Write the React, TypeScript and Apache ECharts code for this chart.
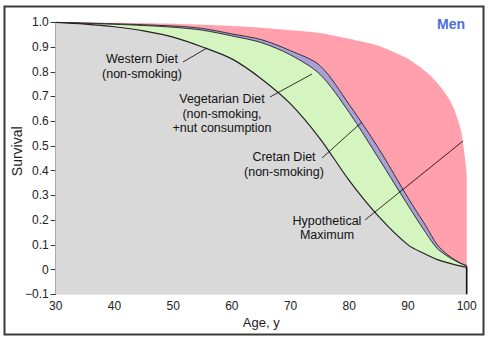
import React, { useEffect, useRef } from "react";
import * as echarts from "echarts";

// Survival curves (age in years, survival fraction)
const ages = [30, 35, 40, 45, 50, 55, 60, 65, 70, 75, 80, 85, 90, 93, 95, 97, 99, 100];
const westernDiet = [1.0, 0.993, 0.982, 0.965, 0.94, 0.9, 0.852, 0.772, 0.67, 0.53, 0.36, 0.215, 0.1, 0.062, 0.04, 0.026, 0.014, 0.01];
const cretanDiet = [1.0, 0.996, 0.992, 0.987, 0.98, 0.968, 0.945, 0.918, 0.868, 0.79, 0.635, 0.45, 0.26, 0.15, 0.085, 0.05, 0.024, 0.015];
const vegetarianDiet = [1.0, 0.997, 0.994, 0.99, 0.985, 0.975, 0.953, 0.93, 0.885, 0.825, 0.667, 0.49, 0.29, 0.178, 0.1, 0.055, 0.026, 0.016];

const hypoAges = [30, 40, 50, 60, 65, 70, 75, 80, 85, 88, 90, 92, 94, 95.5, 97, 98, 99, 99.5, 100, 100];
const hypotheticalMax = [1.0, 0.998, 0.994, 0.985, 0.978, 0.968, 0.957, 0.933, 0.905, 0.875, 0.853, 0.82, 0.78, 0.74, 0.69, 0.64, 0.565, 0.49, 0.38, 0.017];

const endAge = [100, 100];
const endLine = [0.012, -0.1];

const xTicks = { min: 30, max: 100, interval: 10 };
const yTicks = { min: -0.1, max: 1.0, interval: 0.1 };

const zip = (xs: number[], ys: number[]) => xs.map((x, i) => [x, ys[i]]);

const FONT = '"Liberation Sans", Arial, sans-serif';

export default function App() {
  const ref = useRef<HTMLDivElement>(null);
  useEffect(() => {
    if (!ref.current) return;
    const chart = echarts.init(ref.current, undefined, { renderer: "svg" });
    const areaSeries = (name: string, xs: number[], ys: number[], fill: string, line: string, lw: number, smooth: number) => ({
      name,
      type: "line",
      data: zip(xs, ys),
      smooth,
      symbol: "none",
      lineStyle: { color: line, width: lw },
      areaStyle: { color: fill, opacity: 1, origin: "start" },
      silent: true,
    });
    const txt = (text: string, x: number, y: number, lh: number) => ({
      type: "text",
      z: 100,
      style: { text, x, y, align: "center", verticalAlign: "middle", font: `12.5px ${FONT}`, lineHeight: lh, fill: "#111" },
    });
    const ptr = (x1: number, y1: number, x2: number, y2: number) => ({
      type: "line",
      z: 100,
      shape: { x1, y1, x2, y2 },
      style: { stroke: "#000", lineWidth: 0.8 },
    });
    chart.setOption({
      animation: false,
      backgroundColor: "#ffffff",
      grid: { left: 55.7, right: 24.3, top: 22.3, bottom: 47.7, containLabel: false, outerBoundsMode: "none" },
      xAxis: {
        type: "value",
        min: xTicks.min,
        max: xTicks.max,
        interval: xTicks.interval,
        name: "Age, y",
        nameLocation: "middle",
        nameGap: 22,
        nameMoveOverlap: false,
        nameTextStyle: { fontFamily: FONT, fontSize: 13, color: "#222" },
        axisLine: { show: true, lineStyle: { color: "#333", width: 1 } },
        axisTick: { show: true, length: 5, lineStyle: { color: "#333" } },
        axisLabel: { fontFamily: FONT, fontSize: 12, color: "#222", margin: 6 },
        splitLine: { show: false },
      },
      yAxis: {
        type: "value",
        min: yTicks.min,
        max: yTicks.max,
        interval: yTicks.interval,
        name: "Survival",
        nameLocation: "middle",
        nameGap: 32,
        nameMoveOverlap: false,
        nameTextStyle: { fontFamily: FONT, fontSize: 14, color: "#222", padding: [0, 0, 0, 14] },
        axisLine: { show: true, lineStyle: { color: "#333", width: 1 } },
        axisTick: { show: true, length: 5, lineStyle: { color: "#333" } },
        axisLabel: {
          fontFamily: FONT,
          fontSize: 12,
          color: "#222",
          margin: 7,
          formatter: (v: number) =>
            Math.abs(v) < 1e-9 ? "0" : v < 0 ? "\u2212" + Math.abs(v).toFixed(1) : v.toFixed(1),
        },
        splitLine: { show: false },
      },
      series: [
        areaSeries("Hypothetical Maximum", hypoAges, hypotheticalMax, "#ffa0ac", "#ffa0ac", 0, 0.2),
        areaSeries("Vegetarian Diet", ages, vegetarianDiet, "#aaa0d8", "#333333", 1, 0.3),
        areaSeries("Cretan Diet", ages, cretanDiet, "#d5f5c0", "#333333", 1, 0.3),
        areaSeries("Western Diet", ages, westernDiet, "#d9d9d9", "#222222", 1.2, 0.3),
        {
          type: "line",
          data: zip(endAge, endLine),
          symbol: "none",
          lineStyle: { color: "#111", width: 1.6 },
          silent: true,
        },
      ],
      graphic: [
        {
          type: "rect",
          z: 100,
          shape: { x: 4.5, y: 6.5, width: 479, height: 328 },
          style: { fill: "none", stroke: "#3a3a3a", lineWidth: 2 },
          silent: true,
        },
        {
          type: "text",
          z: 100,
          style: { text: "Men", x: 451, y: 24, align: "center", verticalAlign: "middle", font: `bold 14px ${FONT}`, fill: "#4a6fe3" },
        },
        txt("Western Diet\n(non-smoking)", 142, 66, 15),
        txt("Vegetarian Diet\n(non-smoking,\n+nut consumption", 222, 113.5, 14.5),
        txt("Cretan Diet\n(non-smoking)", 284, 164, 15),
        txt("Hypothetical\nMaximum", 327, 227.5, 14),
        ptr(183, 62, 207, 48),
        ptr(270, 97, 312, 74),
        ptr(322, 158, 362, 122),
        ptr(365, 220, 463, 141),
      ],
    });
    return () => chart.dispose();
  }, []);
  return (
    <div
      ref={ref}
      style={{ position: "fixed", left: 0, top: 0, width: 491, height: 342, background: "#fff" }}
    />
  );
}
